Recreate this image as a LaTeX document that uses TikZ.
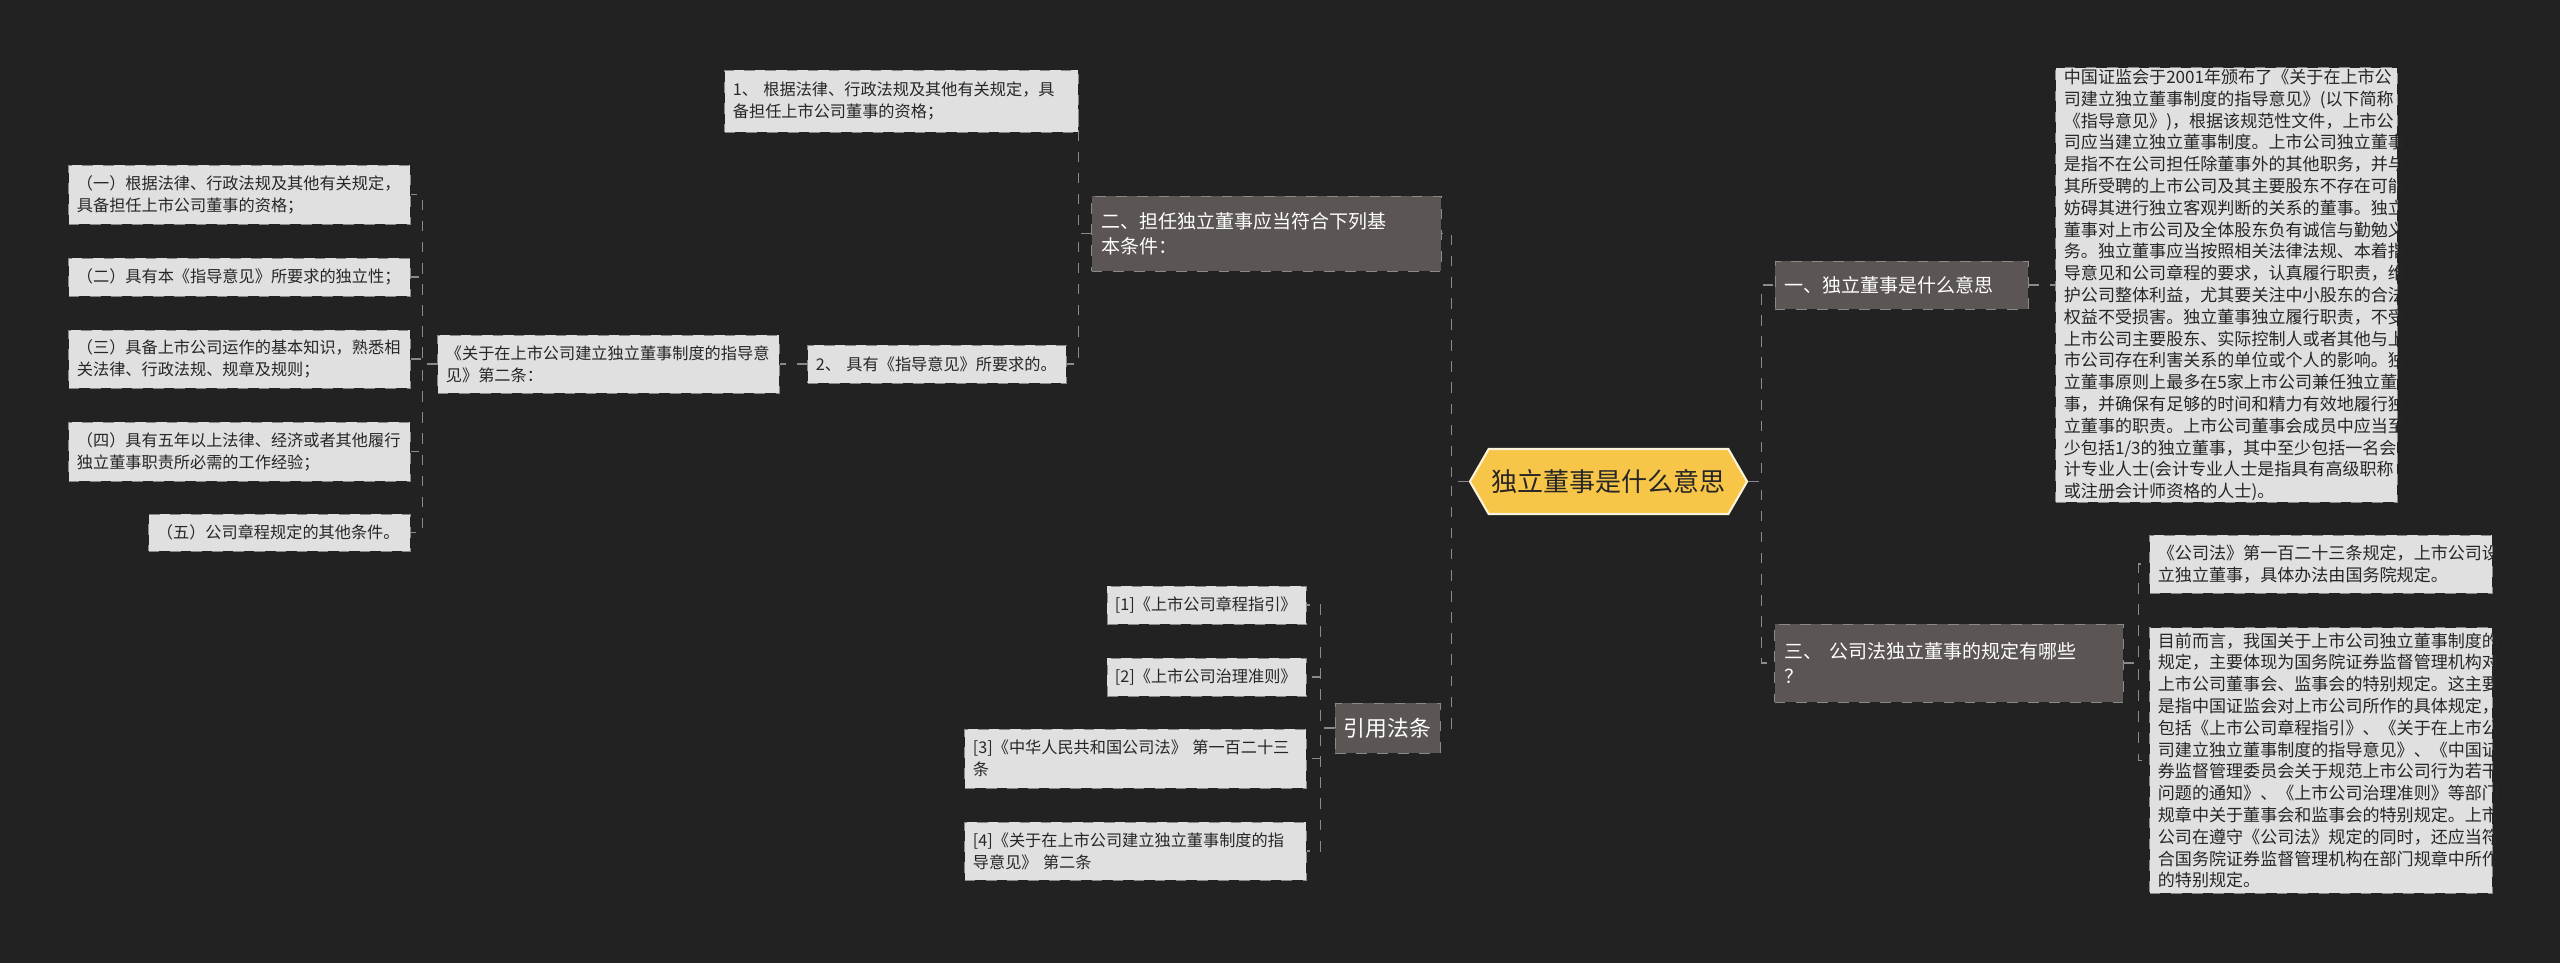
\documentclass[tikz,border=0pt]{standalone}
\usepackage{fontspec}
\setmainfont{Noto Sans CJK SC}
\usetikzlibrary{shapes.symbols}
\definecolor{bg}{HTML}{222222}
\definecolor{boxf}{HTML}{E0E0E0}
\definecolor{boxd}{HTML}{8A8A8A}
\definecolor{darkf}{HTML}{5B5653}
\definecolor{conn}{HTML}{8A8A8A}
\definecolor{yel}{HTML}{F7C547}
\tikzset{
 x=0.01cm,y=-0.01cm,
 leaf/.style={draw=boxd,dashed,fill=boxf,text=black!85,font=\fontsize{4.6pt}{6.2pt}\selectfont,align=left,inner xsep=0.08cm,inner ysep=0pt,line width=0.25pt},
 mid/.style={draw=boxd,dashed,fill=darkf,text=white,font=\fontsize{5.4pt}{7pt}\selectfont,align=left,inner xsep=0.1cm,inner ysep=0pt,line width=0.25pt},
 wire/.style={draw=conn,dashed,line width=0.3pt},
}
\newcommand{\bx}[7]{\node[#1,text width=#5cm-0.16cm,minimum height=#6cm] (#2) at (#3,#4) {#7};}
\begin{document}
\begin{tikzpicture}
\fill[bg] (0,0) rectangle (2560,963);
\useasboundingbox (0,0) rectangle (2560,963);
% center
\node[signal,signal to=west and east,signal pointer angle=120,fill=yel,draw=white!80!yel,line width=0.6pt,minimum width=2.77cm,minimum height=0.65cm,inner xsep=0pt,font=\fontsize{7.4pt}{9pt}\selectfont,text=black!85] (c) at (1608.5,481.5) {独立董事是什么意思};
% mid nodes
\bx{mid}{n1}{1901.5}{285}{2.49}{0.48}{一、独立董事是什么意思}
\bx{mid}{n3}{1949}{663}{3.44}{0.78}{三、 公司法独立董事的规定有哪些\\？}
\bx{mid}{n2}{1266.5}{233.5}{3.45}{0.75}{二、担任独立董事应当符合下列基\\本条件：}
\node[mid,font=\fontsize{6.2pt}{8pt}\selectfont,minimum width=1.05cm,minimum height=0.5cm,inner xsep=0pt] (cite) at (1387.5,728) {引用法条};
% right leaves
\bx{leaf}{rt}{2226.5}{285}{3.41}{4.34}{\fontsize{4.85pt}{6.2pt}\selectfont 中国证监会于2001年颁布了《关于在上市公\\司建立独立董事制度的指导意见》(以下简称\\《指导意见》)，根据该规范性文件，上市公\\司应当建立独立董事制度。上市公司独立董事\\是指不在公司担任除董事外的其他职务，并与\\其所受聘的上市公司及其主要股东不存在可能\\妨碍其进行独立客观判断的关系的董事。独立\\董事对上市公司及全体股东负有诚信与勤勉义\\务。独立董事应当按照相关法律法规、本着指\\导意见和公司章程的要求，认真履行职责，维\\护公司整体利益，尤其要关注中小股东的合法\\权益不受损害。独立董事独立履行职责，不受\\上市公司主要股东、实际控制人或者其他与上\\市公司存在利害关系的单位或个人的影响。独\\立董事原则上最多在5家上市公司兼任独立董\\事，并确保有足够的时间和精力有效地履行独\\立董事的职责。上市公司董事会成员中应当至\\少包括1/3的独立董事，其中至少包括一名会\\计专业人士(会计专业人士是指具有高级职称\\或注册会计师资格的人士)。}
\bx{leaf}{A}{2321}{564}{3.42}{0.58}{\fontsize{4.85pt}{6.2pt}\selectfont 《公司法》第一百二十三条规定，上市公司设\\立独立董事，具体办法由国务院规定。}
\bx{leaf}{B}{2321}{760.5}{3.42}{2.65}{\fontsize{4.85pt}{6.2pt}\selectfont 目前而言，我国关于上市公司独立董事制度的\\规定，主要体现为国务院证券监督管理机构对\\上市公司董事会、监事会的特别规定。这主要\\是指中国证监会对上市公司所作的具体规定，\\包括《上市公司章程指引》、《关于在上市公\\司建立独立董事制度的指导意见》、《中国证\\券监督管理委员会关于规范上市公司行为若干\\问题的通知》、《上市公司治理准则》等部门\\规章中关于董事会和监事会的特别规定。上市\\公司在遵守《公司法》规定的同时，还应当符\\合国务院证券监督管理机构在部门规章中所作\\的特别规定。}
% 二 branch
\bx{leaf}{c1}{901.5}{101}{3.53}{0.62}{1、 根据法律、行政法规及其他有关规定，具\\备担任上市公司董事的资格；}
\bx{leaf}{c2}{937}{364}{2.58}{0.38}{2、 具有《指导意见》所要求的。}
\bx{leaf}{art}{608.5}{364}{3.41}{0.58}{《关于在上市公司建立独立董事制度的指导意\\见》第二条：}
\bx{leaf}{L1}{239.5}{194.5}{3.41}{0.59}{（一）根据法律、行政法规及其他有关规定，\\具备担任上市公司董事的资格；}
\bx{leaf}{L2}{239.5}{277}{3.41}{0.38}{（二）具有本《指导意见》所要求的独立性；}
\bx{leaf}{L3}{239.5}{359}{3.41}{0.58}{（三）具备上市公司运作的基本知识，熟悉相\\关法律、行政法规、规章及规则；}
\bx{leaf}{L4}{239.5}{451.5}{3.41}{0.59}{（四）具有五年以上法律、经济或者其他履行\\独立董事职责所必需的工作经验；}
\bx{leaf}{L5}{279.5}{532.5}{2.61}{0.37}{（五）公司章程规定的其他条件。}
% cite leaves
\bx{leaf}{r1}{1206.5}{605}{1.99}{0.38}{[1]《上市公司章程指引》}
\bx{leaf}{r2}{1206.5}{677}{1.99}{0.38}{[2]《上市公司治理准则》}
\bx{leaf}{r3}{1135.5}{758.5}{3.41}{0.59}{[3]《中华人民共和国公司法》 第一百二十三\\条}
\bx{leaf}{r4}{1135.5}{851}{3.41}{0.58}{[4]《关于在上市公司建立独立董事制度的指\\导意见》 第二条}
% connectors
\foreach \t in {n2,cite} \draw[wire] (c.west) -- ([xshift=-0.17cm]c.west) |- (\t.east);
\foreach \t in {n1,n3} \draw[wire] (c.east) -- ([xshift=0.13cm]c.east) |- (\t.west);
\draw[wire] (n1.east) -- ([xshift=0.12cm]n1.east) |- (rt.west);
\foreach \t in {A,B} \draw[wire] (n3.east) -- ([xshift=0.15cm]n3.east) |- (\t.west);
\foreach \t in {c1,c2} \draw[wire] (n2.west) -- ([xshift=-0.13cm]n2.west) |- (\t.east);
\draw[wire] (c2.west) -- (art.east);
\foreach \t in {L1,L2,L3,L4,L5} \draw[wire] (art.west) -- ([xshift=-0.15cm]art.west) |- (\t.east);
\foreach \t in {r1,r2,r3,r4} \draw[wire] (cite.west) -- ([xshift=-0.14cm]cite.west) |- (\t.east);
\end{tikzpicture}
\end{document}
